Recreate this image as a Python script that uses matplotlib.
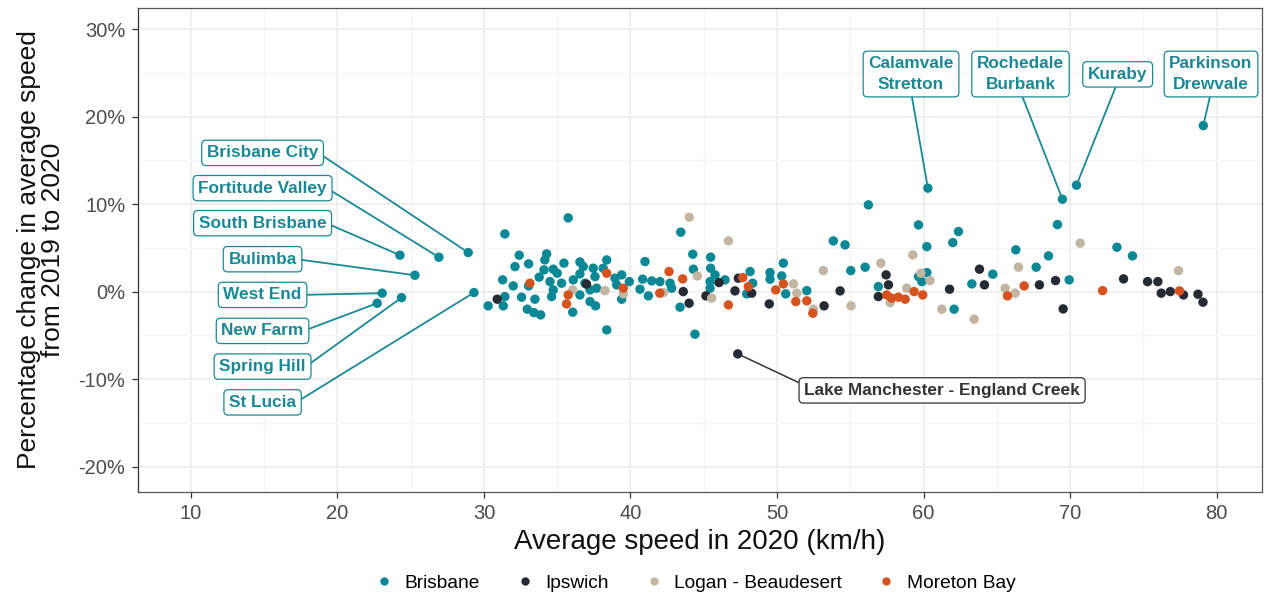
import matplotlib
matplotlib.use("Agg")
import matplotlib.pyplot as plt
from matplotlib.ticker import FixedLocator, FuncFormatter
from matplotlib.lines import Line2D

plt.rcParams['font.family'] = ['Liberation Sans', 'DejaVu Sans']

# ---------------- data ----------------
brisbane_speed = [28.93, 26.93, 24.27, 25.29, 23.06, 22.72, 24.38, 29.32,
                  60.29, 69.47, 70.43, 79.08, 30.29,
                  31.43, 32.41, 34.28, 32.12, 33.05, 34.16, 35.46, 36.55, 38.38, 34.10,
                  34.73, 36.78, 37.46, 38.14, 31.28, 32.00, 33.05, 33.77, 34.51, 35.00,
                  35.30, 36.10, 36.55, 36.89, 37.58, 37.69, 38.94, 39.40, 39.92, 39.06,
                  34.73, 36.55, 37.24, 31.43, 32.57, 33.48, 34.62, 31.32, 32.96, 33.41,
                  33.87, 36.06, 37.24, 37.62, 39.40, 38.38, 35.75,
                  43.43, 40.99, 44.25, 45.47, 44.29, 45.47, 40.83, 41.45, 42.01, 42.70,
                  40.65, 41.22, 42.81, 45.43, 45.77, 46.45, 45.43, 48.16, 48.34, 47.93,
                  49.52, 49.52, 50.32, 50.43, 50.59, 43.38, 44.40,
                  59.65, 62.38, 53.84, 54.64, 60.22, 61.99, 55.03, 56.01, 52.03, 56.91,
                  59.65, 60.22, 59.88, 62.08, 56.23,
                  69.13, 66.29, 68.52, 67.68, 64.72, 63.29, 69.93, 73.19, 74.25]
brisbane_change = [4.46, 3.93, 4.16, 1.87, -0.18, -1.33, -0.69, -0.11,
                   11.82, 10.56, 12.16, 18.97, -1.63,
                   6.59, 4.16, 4.31, 2.86, 3.17, 3.62, 3.25, 3.39, 3.62, 2.48,
                   2.56, 2.86, 2.67, 2.67, 1.34, 0.65, 0.65, 1.65, 1.14, 2.10,
                   0.96, 1.34, 2.02, 0.96, 1.71, 0.39, 1.53, 1.91, 1.14, 0.77,
                   0.19, -0.38, 0.19, -0.57, -0.64, -0.87, -0.57, -1.63, -2.01, -2.40,
                   -2.66, -2.35, -1.14, -1.63, -0.87, -4.38, 8.42,
                   6.79, 3.43, 4.27, 3.93, 2.56, 2.67, 1.42, 1.22, 1.14, 0.96,
                   0.27, -0.49, 0.39, 1.14, 1.91, 1.34, 0.39, 2.29, 0.96, -0.26,
                   2.17, 1.42, 1.79, 3.25, -0.26, -1.78, -4.87,
                   7.62, 6.86, 5.79, 5.34, 5.14, 5.60, 2.40, 2.79, 0.11, 0.57,
                   1.71, 2.17, 1.14, -2.01, 9.91,
                   7.66, 4.77, 4.08, 2.79, 1.99, 0.88, 1.34, 5.07, 4.08]

ipswich_speed = [30.91, 37.00, 43.60, 44.00, 45.15, 46.04, 47.13, 47.36, 48.27, 49.47,
                 57.44, 57.60, 56.91, 54.30, 53.21, 61.77, 63.81, 64.15, 67.90, 69.00,
                 69.52, 73.64, 75.28, 75.98, 76.21, 76.83, 77.73, 78.72, 79.06, 47.32]
ipswich_change = [-0.87, 0.85, 0.00, -1.33, -0.49, 1.03, 0.08, 1.53, -0.18, -1.41,
                  1.91, 0.77, -0.57, 0.08, -1.63, 0.27, 2.56, 0.77, 0.77, 1.26,
                  -1.98, 1.45, 1.14, 1.14, -0.18, 0.00, -0.38, -0.30, -1.21, -7.12]

logan_speed = [36.06, 38.26, 39.51, 44.01, 46.68, 44.56, 42.24, 45.54, 51.12, 51.35,
               53.16, 57.08, 59.26, 52.48, 55.05, 58.85, 57.72, 59.81, 60.44, 61.24,
               66.47, 70.68, 65.56, 66.24, 63.45, 77.39]
logan_change = [0.19, 0.11, -0.26, 8.50, 5.79, 1.79, -0.11, -0.75, 0.88, -0.18,
                2.40, 3.25, 4.19, -2.01, -1.63, 0.39, -1.26, 2.10, 1.26, -2.01,
                2.79, 5.53, 0.39, -0.18, -3.15, 2.40]

moreton_speed = [33.14, 38.38, 39.51, 35.64, 35.75, 42.63, 43.56, 42.00, 47.66, 46.68,
                 48.04, 49.91, 50.43, 51.28, 52.03, 52.44, 57.48, 57.82, 58.28, 58.74,
                 59.35, 59.94, 66.86, 65.72, 72.21, 77.46]
moreton_change = [0.96, 2.10, 0.39, -1.41, -0.38, 2.29, 1.45, -0.18, 1.60, -1.52,
                  0.57, 0.19, 0.88, -1.14, -1.06, -2.47, -0.38, -0.75, -0.64, -0.87,
                  0.00, -0.38, 0.65, -0.49, 0.11, 0.08]

regions = ["Brisbane", "Ipswich", "Logan - Beaudesert", "Moreton Bay"]

label_names = ["Brisbane City", "Fortitude Valley", "South Brisbane", "Bulimba",
               "West End", "New Farm", "Spring Hill", "St Lucia",
               "Calamvale\nStretton", "Rochedale\nBurbank", "Kuraby", "Parkinson\nDrewvale"]
label_speed = [28.93, 26.93, 24.27, 25.29, 23.06, 22.72, 24.38, 29.32, 60.29, 69.47, 70.43, 79.08]
label_change = [4.46, 3.93, 4.16, 1.87, -0.18, -1.33, -0.69, -0.11, 11.82, 10.56, 12.16, 18.97]

dark_label = "Lake Manchester - England Creek"
dark_label_speed = 47.32
dark_label_change = -7.12

x_ticks = [10, 20, 30, 40, 50, 60, 70, 80]
y_ticks = [-20, -10, 0, 10, 20, 30]

# ---------------- layout / styles ----------------
label_pos = [(14.9, 15.85), (14.9, 11.82), (14.9, 7.82), (14.9, 3.70),
             (14.9, -0.38), (14.9, -4.49), (14.9, -8.57), (14.9, -12.66),
             (59.14, 24.86), (66.61, 24.86), (73.24, 24.82), (79.61, 24.86)]
label_relpos = [(1.0, 0.5)] * 8 + [(0.5, 0.0)] * 4
dark_label_pos = (61.26, -11.29)

colors = {"Brisbane": "#0b8896", "Ipswich": "#262a33",
          "Logan - Beaudesert": "#c2b6a3", "Moreton Bay": "#d6531f"}
label_color = "#1a8995"

fig = plt.figure(figsize=(12.66, 5.96), dpi=100)
ax = fig.add_axes([0.109, 0.1745, 0.888, 0.812])

series = [(brisbane_speed, brisbane_change), (ipswich_speed, ipswich_change),
          (logan_speed, logan_change), (moreton_speed, moreton_change)]
for name, (xs, ys) in zip(regions, series):
    ax.scatter(xs, ys, s=46, color=colors[name], edgecolors='none', zorder=3)

ax.set_xlim(6.4, 83.1)
ax.set_ylim(-22.9, 32.4)

ax.xaxis.set_major_locator(FixedLocator(x_ticks))
ax.yaxis.set_major_locator(FixedLocator(y_ticks))
ax.xaxis.set_minor_locator(FixedLocator([t + 5 for t in x_ticks[:-1]]))
ax.yaxis.set_minor_locator(FixedLocator([t + 5 for t in y_ticks[:-1]] + [-25]))
ax.yaxis.set_major_formatter(FuncFormatter(lambda v, p: f"{int(round(v))}%"))

ax.grid(which='major', color='#ebebeb', lw=1.1, zorder=0)
ax.grid(which='minor', color='#f3f3f3', lw=0.8, zorder=0)
ax.set_axisbelow(True)
for sp in ax.spines.values():
    sp.set_color('#555555')
    sp.set_linewidth(0.9)
ax.spines['left'].set_color('#333333')

ax.tick_params(which='major', length=4, width=0.9, color='#333333',
               labelsize=14.5, labelcolor='#4d4d4d', pad=5)
ax.tick_params(which='minor', length=0)

ax.set_xlabel("Average speed in 2020 (km/h)", fontsize=20, color='#111111', labelpad=4)
ax.set_ylabel("Percentage change in average speed\nfrom 2019 to 2020", fontsize=19,
              color='#111111', labelpad=10, linespacing=1.0)

for name, px, py, (lx, ly), rp in zip(label_names, label_speed, label_change,
                                      label_pos, label_relpos):
    ax.annotate(name, xy=(px, py), xytext=(lx, ly), textcoords='data',
                ha='center', va='center', fontsize=12.4, fontweight='bold',
                color=label_color, linespacing=1.45, zorder=5,
                bbox=dict(boxstyle='round,pad=0.3,rounding_size=0.25', fc='white',
                          ec=label_color, lw=0.9),
                arrowprops=dict(arrowstyle='-', color=label_color, lw=1.3,
                                shrinkA=0, shrinkB=3, relpos=rp))

ax.annotate(dark_label, xy=(dark_label_speed, dark_label_change), xytext=dark_label_pos,
            textcoords='data', ha='center', va='center', fontsize=12.4,
            fontweight='bold', color='#333333', zorder=5,
            bbox=dict(boxstyle='round,pad=0.3,rounding_size=0.25', fc='white',
                      ec='#333333', lw=0.9),
            arrowprops=dict(arrowstyle='-', color='#333333', lw=1.1, shrinkA=0,
                            shrinkB=3, relpos=(0.0, 0.85)))

handles = [Line2D([], [], marker='o', ls='none', markersize=6,
                  markerfacecolor=colors[r], markeredgecolor='none') for r in regions]
fig.legend(handles, regions, loc='center', bbox_to_anchor=(0.549, 0.022), ncol=4,
           frameon=False, fontsize=13.8, handletextpad=0.55, columnspacing=1.85,
           handlelength=1.0)

fig.savefig("out.png", dpi=100)
